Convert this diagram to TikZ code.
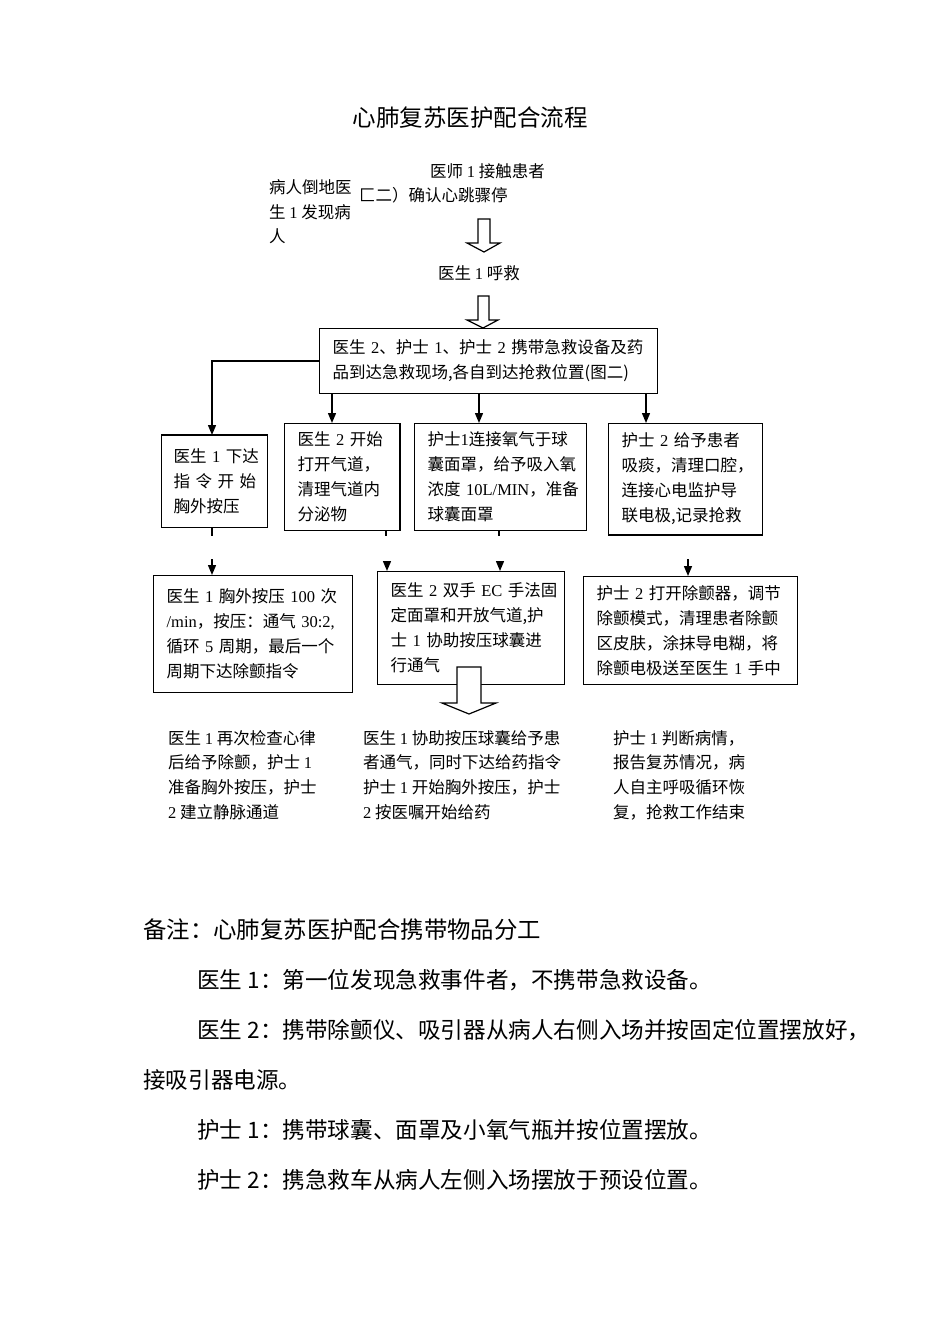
\documentclass[tikz,border=0pt]{standalone}
\usepackage{fontspec}
\setmainfont{Noto Sans CJK SC}
\newfontfamily\latnfont{Liberation Serif}
\newcommand\tmr[1]{{\latnfont #1}}
\newcommand\fsbox{\fontsize{16.5pt}{25pt}\selectfont}
\newcommand\fstitle{\fontsize{23.5pt}{28pt}\selectfont}
\newcommand\fsnote{\fontsize{22.6pt}{27pt}\selectfont}
\usetikzlibrary{arrows.meta}
\begin{document}
\begin{tikzpicture}[x=1pt,y=-1pt,
  fbox/.style={draw, line width=1.2pt, anchor=north west, align=left,
    inner xsep=13pt, inner ysep=0pt, font=\fsbox},
  txt/.style={inner sep=0pt, align=left, font=\fsbox},
  note/.style={inner sep=0pt, anchor=west, font=\fsnote},
  conn/.style={line width=1.4pt},
  arr/.style={conn, -{Triangle[width=8pt,length=10pt]}},
  hollow/.style={draw, line width=1.2pt, fill=white, line join=miter}]
\fill[white] (0,0) rectangle (950,1344);
\useasboundingbox (0,0) rectangle (950,1344);

% title and top texts
\node[inner sep=0pt, font=\fstitle] (title) at (470,118) {心肺复苏医护配合流程};
\node[txt, anchor=west] (t1) at (430,171) {医师 \tmr{1} 接触患者};
\node[txt, anchor=west, font=\fontsize{16.5pt}{24.5pt}\selectfont] (t2) at (269,212) {病人倒地医\\生 \tmr{1} 发现病\\人};
\node[txt, anchor=west] (t3) at (359,195) {匚二）确认心跳骤停};
\node[txt, anchor=west] (t4) at (438,273) {医生 \tmr{1} 呼救};

% hollow arrows
\draw[hollow] (478,219) -- (490,219) -- (490,243) -- (500,243) -- (484,252) -- (467,243) -- (478,243) -- cycle;
\draw[hollow] (478,296) -- (489,296) -- (489,320) -- (498,320) -- (483,328) -- (467,320) -- (478,320) -- cycle;

% boxes
\node[fbox, text width=312pt, minimum height=65pt] (b0) at (319,328)
  {医生~\tmr{2}、护士~\tmr{1}、护士~\tmr{2}~携带急救设备及药\\品到达急救现场,各自到达抢救位置(图二)};
\node[fbox, inner xsep=12pt, text width=82pt, minimum height=92pt] (b1) at (161,435)
  {医生~\tmr{1}~下达\\指~令~开~始\\胸外按压};
\node[fbox, text width=89pt, minimum height=107pt] (b2) at (284,423)
  {医生~\tmr{2}~开始\\打开气道，\\清理气道内\\分泌物};
\node[fbox, text width=146pt, minimum height=107pt] (b3) at (414,423)
  {护士\tmr{1}连接氧气于球\\囊面罩，给予吸入氧\\浓度~\tmr{10L/MIN}，准备\\球囊面罩};
\node[fbox, text width=128pt, minimum height=111pt] (b4) at (608,423)
  {护士~\tmr{2}~给予患者\\吸痰，清理口腔，\\连接心电监护导\\联电极,记录抢救};
\node[fbox, text width=173pt, minimum height=117pt] (b5) at (153,575)
  {医生~\tmr{1}~胸外按压~\tmr{100}~次\\\tmr{/min}，按压：通气~\tmr{30:2,}\\循环~\tmr{5}~周期，最后一个\\周期下达除颤指令};
\node[fbox, text width=161pt, minimum height=113pt] (b6) at (377,571)
  {医生~\tmr{2}~双手~\tmr{EC}~手法固\\定面罩和开放气道,护\\士~\tmr{1}~协助按压球囊进\\行通气};
\node[fbox, text width=188pt, minimum height=108pt] (b7) at (583,576)
  {护士~\tmr{2}~打开除颤器，调节\\除颤模式，清理患者除颤\\区皮肤，涂抹导电糊，将\\除颤电极送至医生~\tmr{1}~手中};

% thicker edges as in the reference
\draw[line width=2.4pt] (b1.north west) -- (b1.north east);
\draw[line width=2pt] (b2.north east) -- (b2.south east);
\draw[line width=1.8pt] (b4.south west) -- (b4.south east);

% connectors from the top box
\draw[arr] (b0.west) -| (b1.north -| 212,0);
\draw[arr] (b0.south -| 332,0) -- (b2.north -| 332,0);
\draw[arr] (b0.south -| 479,0) -- (b3.north -| 479,0);
\draw[arr] (b0.south -| 646,0) -- (b4.north -| 646,0);

% broken connectors between rows
\coordinate (s1) at (212,536);
\coordinate (s2) at (386,536);
\coordinate (s3) at (499,536);
\draw[conn] (b1.south -| s1) -- (s1);
\draw[conn] (b2.south -| s2) -- (s2);
\draw[conn] (b3.south -| s3) -- (s3);
\coordinate (i5) at (212,559);
\coordinate (i6a) at (387,561);
\coordinate (i6b) at (500,561);
\coordinate (i7) at (688,559);
\draw[arr] (i5) -- (b5.north -| i5);
\draw[arr] (i6a) -- (b6.north -| i6a);
\draw[arr] (i6b) -- (b6.north -| i6b);
\draw[arr] (i7) -- (b7.north -| i7);

% hollow arrow out of the middle box
\draw[hollow] (457,667) -- (481,667) -- (481,703) -- (496,703) -- (469,714) -- (442,703) -- (457,703) -- cycle;

% bottom texts
\node[txt, anchor=west, font=\fontsize{16.5pt}{24.7pt}\selectfont] (c1) at (168,775)
  {医生 \tmr{1} 再次检查心律\\后给予除颤，护士 \tmr{1}\\准备胸外按压，护士\\\tmr{2} 建立静脉通道};
\node[txt, anchor=west, font=\fontsize{16.5pt}{24.7pt}\selectfont] (c2) at (363,775)
  {医生 \tmr{1} 协助按压球囊给予患\\者通气，同时下达给药指令\\护士 \tmr{1} 开始胸外按压，护士\\\tmr{2} 按医嘱开始给药};
\node[txt, anchor=west, font=\fontsize{16.5pt}{24.7pt}\selectfont] (c3) at (613,775)
  {护士 \tmr{1} 判断病情，\\报告复苏情况，病\\人自主呼吸循环恢\\复，抢救工作结束};

% notes
\node[note, font=\fontsize{23.4pt}{28pt}\selectfont] (n0) at (143,930) {备注：心肺复苏医护配合携带物品分工};
\node[note] (n1) at (197,980) {医生 1：第一位发现急救事件者，不携带急救设备。};
\node[note] (n2) at (197,1030) {医生 2：携带除颤仪、吸引器从病人右侧入场并按固定位置摆放好，};
\node[note] (n3) at (143,1080) {接吸引器电源。};
\node[note] (n4) at (197,1130) {护士 1：携带球囊、面罩及小氧气瓶并按位置摆放。};
\node[note] (n5) at (197,1180) {护士 2：携急救车从病人左侧入场摆放于预设位置。};
\end{tikzpicture}
\end{document}
